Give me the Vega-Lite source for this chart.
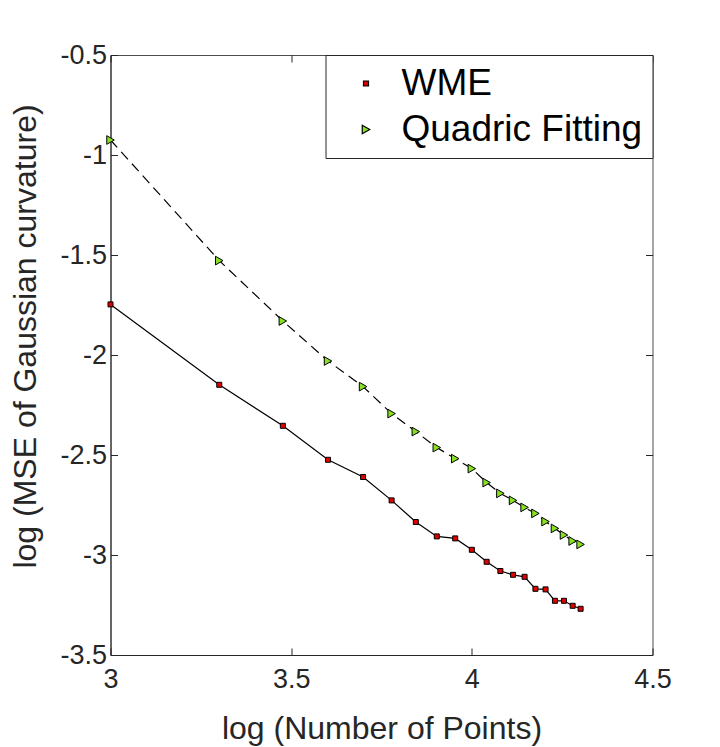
{
  "$schema": "https://vega.github.io/schema/vega-lite/v6.json",
  "width": 542,
  "height": 600,
  "autosize": "none",
  "padding": {"left": 110.5, "top": 55, "right": 67.5, "bottom": 92},
  "background": "white",
  "config": {
    "font": "Liberation Sans",
    "view": {"stroke": "#4d4d4d", "strokeWidth": 1},
    "axis": {
      "grid": false,
      "labelFlush": false,
      "domainColor": "#262626",
      "tickColor": "#262626",
      "tickSize": -7,
      "labelColor": "#262626",
      "labelFont": "Liberation Sans",
      "labelFontSize": 27,
      "titleColor": "#262626",
      "titleFont": "Liberation Sans",
      "titleFontSize": 32,
      "titleFontWeight": "normal"
    },
    "legend": {
      "title": null,
      "orient": "top-right",
      "offset": 0,
      "padding": 10,
      "strokeColor": "#262626",
      "fillColor": "white",
      "labelFontSize": 37,
      "labelColor": "black",
      "labelLimit": 400,
      "symbolSize": 400,
      "symbolOffset": 12,
      "symbolStrokeWidth": 1.2,
      "labelOffset": 17,
      "rowPadding": 8
    }
  },
  "data": {
    "values": [
      {"n": 3.000, "mse": -1.747, "method": "WME"},
      {"n": 3.301, "mse": -2.149, "method": "WME"},
      {"n": 3.477, "mse": -2.354, "method": "WME"},
      {"n": 3.602, "mse": -2.524, "method": "WME"},
      {"n": 3.699, "mse": -2.610, "method": "WME"},
      {"n": 3.778, "mse": -2.727, "method": "WME"},
      {"n": 3.845, "mse": -2.835, "method": "WME"},
      {"n": 3.903, "mse": -2.907, "method": "WME"},
      {"n": 3.954, "mse": -2.917, "method": "WME"},
      {"n": 4.000, "mse": -2.974, "method": "WME"},
      {"n": 4.041, "mse": -3.034, "method": "WME"},
      {"n": 4.079, "mse": -3.080, "method": "WME"},
      {"n": 4.114, "mse": -3.099, "method": "WME"},
      {"n": 4.146, "mse": -3.109, "method": "WME"},
      {"n": 4.176, "mse": -3.169, "method": "WME"},
      {"n": 4.204, "mse": -3.172, "method": "WME"},
      {"n": 4.230, "mse": -3.229, "method": "WME"},
      {"n": 4.255, "mse": -3.229, "method": "WME"},
      {"n": 4.279, "mse": -3.254, "method": "WME"},
      {"n": 4.301, "mse": -3.269, "method": "WME"},
      {"n": 3.000, "mse": -0.925, "method": "Quadric Fitting"},
      {"n": 3.301, "mse": -1.528, "method": "Quadric Fitting"},
      {"n": 3.477, "mse": -1.830, "method": "Quadric Fitting"},
      {"n": 3.602, "mse": -2.030, "method": "Quadric Fitting"},
      {"n": 3.699, "mse": -2.158, "method": "Quadric Fitting"},
      {"n": 3.778, "mse": -2.293, "method": "Quadric Fitting"},
      {"n": 3.845, "mse": -2.383, "method": "Quadric Fitting"},
      {"n": 3.903, "mse": -2.463, "method": "Quadric Fitting"},
      {"n": 3.954, "mse": -2.518, "method": "Quadric Fitting"},
      {"n": 4.000, "mse": -2.568, "method": "Quadric Fitting"},
      {"n": 4.041, "mse": -2.638, "method": "Quadric Fitting"},
      {"n": 4.079, "mse": -2.692, "method": "Quadric Fitting"},
      {"n": 4.114, "mse": -2.727, "method": "Quadric Fitting"},
      {"n": 4.146, "mse": -2.762, "method": "Quadric Fitting"},
      {"n": 4.176, "mse": -2.792, "method": "Quadric Fitting"},
      {"n": 4.204, "mse": -2.833, "method": "Quadric Fitting"},
      {"n": 4.230, "mse": -2.867, "method": "Quadric Fitting"},
      {"n": 4.255, "mse": -2.900, "method": "Quadric Fitting"},
      {"n": 4.279, "mse": -2.930, "method": "Quadric Fitting"},
      {"n": 4.301, "mse": -2.947, "method": "Quadric Fitting"}
    ]
  },
  "encoding": {
    "x": {
      "field": "n",
      "type": "quantitative",
      "scale": {"domain": [3, 4.5], "nice": false, "zero": false}
    },
    "y": {
      "field": "mse",
      "type": "quantitative",
      "scale": {"domain": [-3.5, -0.5], "nice": false, "zero": false}
    }
  },
  "layer": [
    {
      "transform": [{"filter": "datum.method === 'WME'"}],
      "mark": {"type": "line", "color": "black", "strokeWidth": 1.2},
      "encoding": {
        "x": {
          "field": "n",
          "type": "quantitative",
          "title": "log (Number of Points)",
          "axis": {
            "values": [3, 3.5, 4, 4.5],
            "labelPadding": 18,
            "labelExpr": "'' + datum.value",
            "titleBaseline": "alphabetic",
            "titleY": 83
          }
        },
        "y": {
          "field": "mse",
          "type": "quantitative",
          "title": "log (MSE of Gaussian curvature)",
          "axis": {
            "values": [-3.5, -3, -2.5, -2, -1.5, -1, -0.5],
            "labelPadding": 11,
            "labelExpr": "'' + datum.value",
            "titleBaseline": "alphabetic",
            "titleX": -75,
            "titleY": 281
          }
        }
      }
    },
    {
      "transform": [{"filter": "datum.method === 'Quadric Fitting'"}],
      "mark": {"type": "line", "color": "black", "strokeWidth": 1.2, "strokeDash": [10, 6]},
      "encoding": {
        "x": {"field": "n", "type": "quantitative", "axis": null},
        "y": {"field": "mse", "type": "quantitative", "axis": null}
      }
    },
    {
      "mark": {"type": "point", "filled": true, "strokeWidth": 1, "opacity": 1},
      "encoding": {
        "x": {"field": "n", "type": "quantitative", "axis": null},
        "y": {"field": "mse", "type": "quantitative", "axis": null},
        "fill": {
          "field": "method",
          "type": "nominal",
          "scale": {"domain": ["WME", "Quadric Fitting"], "range": ["#dd0000", "#88e022"]},
          "legend": {
            "encode": {
              "symbols": {
                "shape": {"value": {"expr": "datum.value === 'WME' ? 'M-3.1,0H-0.3M0.3,0H3.1M-0.25,-0.25H0.25V0.25H-0.25Z' : 'M-3.1,0H-2.3M-1.8,0H-1M-0.55,0H-0.35M0.45,0H0.6M1,0H1.8M2.3,0H3.1M-0.35,-0.4L0.45,0L-0.35,0.4Z'"}},
                "size": {"value": 400},
                "strokeWidth": {"value": 1.2}
              }
            }
          }
        },
        "stroke": {
          "field": "method",
          "type": "nominal",
          "scale": {"domain": ["WME", "Quadric Fitting"], "range": ["black", "black"]},
          "legend": {
            "encode": {
              "symbols": {
                "shape": {"value": {"expr": "datum.value === 'WME' ? 'M-3.1,0H-0.3M0.3,0H3.1M-0.25,-0.25H0.25V0.25H-0.25Z' : 'M-3.1,0H-2.3M-1.8,0H-1M-0.55,0H-0.35M0.45,0H0.6M1,0H1.8M2.3,0H3.1M-0.35,-0.4L0.45,0L-0.35,0.4Z'"}},
                "size": {"value": 400},
                "strokeWidth": {"value": 1.2}
              }
            }
          }
        },
        "shape": {
          "field": "method",
          "type": "nominal",
          "scale": {"domain": ["WME", "Quadric Fitting"], "range": ["square", "triangle-right"]},
          "legend": {
            "encode": {
              "symbols": {
                "shape": {"value": {"expr": "datum.value === 'WME' ? 'M-3.1,0H-0.3M0.3,0H3.1M-0.25,-0.25H0.25V0.25H-0.25Z' : 'M-3.1,0H-2.3M-1.8,0H-1M-0.55,0H-0.35M0.45,0H0.6M1,0H1.8M2.3,0H3.1M-0.35,-0.4L0.45,0L-0.35,0.4Z'"}},
                "size": {"value": 400},
                "strokeWidth": {"value": 1.2}
              }
            }
          }
        },
        "size": {
          "field": "method",
          "type": "nominal",
          "scale": {"domain": ["WME", "Quadric Fitting"], "range": [25, 75]},
          "legend": {
            "encode": {
              "symbols": {
                "shape": {"value": {"expr": "datum.value === 'WME' ? 'M-3.1,0H-0.3M0.3,0H3.1M-0.25,-0.25H0.25V0.25H-0.25Z' : 'M-3.1,0H-2.3M-1.8,0H-1M-0.55,0H-0.35M0.45,0H0.6M1,0H1.8M2.3,0H3.1M-0.35,-0.4L0.45,0L-0.35,0.4Z'"}},
                "size": {"value": 400},
                "strokeWidth": {"value": 1.2}
              }
            }
          }
        }
      }
    },
    {
      "mark": {"type": "point", "opacity": 0},
      "encoding": {
        "x": {
          "field": "n",
          "type": "quantitative",
          "axis": {"orient": "top", "values": [3, 3.5, 4, 4.5], "labels": false, "domain": false, "title": null}
        },
        "y": {
          "field": "mse",
          "type": "quantitative",
          "axis": {"orient": "right", "values": [-3.5, -3, -2.5, -2, -1.5, -1, -0.5], "labels": false, "domain": false, "title": null}
        }
      }
    }
  ],
  "resolve": {"axis": {"x": "independent", "y": "independent"}}
}
